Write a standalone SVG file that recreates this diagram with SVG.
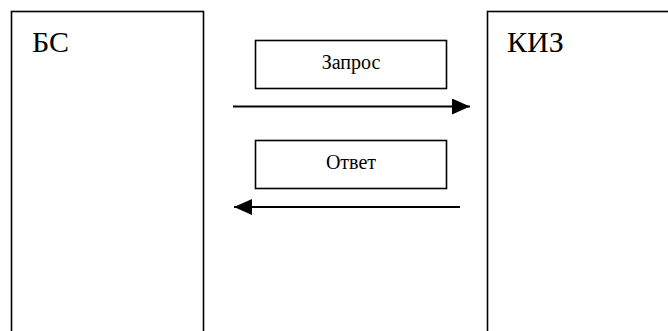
<svg xmlns="http://www.w3.org/2000/svg" width="668" height="331" viewBox="0 0 668 331">
<style>
.box{fill:#fff;stroke:#000;stroke-width:1.6}
.big{font-family:'Liberation Serif','Times New Roman','DejaVu Serif',serif;font-size:30px;fill:#000}
.lbl{font-family:'Liberation Serif','Times New Roman','DejaVu Serif',serif;font-size:20px;fill:#000;text-anchor:middle}
.conn{stroke:#000;stroke-width:2.2;fill:none}
</style>
<defs>
<marker id="ah" viewBox="0 0 18 16" refX="18" refY="8" markerWidth="18" markerHeight="16" markerUnits="userSpaceOnUse" orient="auto">
<path d="M0,0 L18,8 L0,16 Z" fill="#000"/>
</marker>
</defs>
<rect width="668" height="331" fill="#fff"/>
<g id="bs">
<rect class="box" x="11.5" y="11.5" width="192" height="330"/>
<text class="big" x="32" y="52">БС</text>
</g>
<g id="kiz">
<rect class="box" x="487.5" y="11.5" width="200" height="330"/>
<text class="big" x="507" y="52">КИЗ</text>
</g>
<g id="zapros">
<rect class="box" x="255.5" y="40.5" width="191" height="48"/>
<text class="lbl" x="351" y="69">Запрос</text>
</g>
<g id="otvet">
<rect class="box" x="255.5" y="140.5" width="191" height="48"/>
<text class="lbl" x="351" y="169">Ответ</text>
</g>
<g id="connectors">
<line class="conn" x1="233" y1="106.5" x2="470" y2="106.5" marker-end="url(#ah)"/>
<line class="conn" x1="460" y1="207" x2="234" y2="207" marker-end="url(#ah)"/>
</g>
</svg>
